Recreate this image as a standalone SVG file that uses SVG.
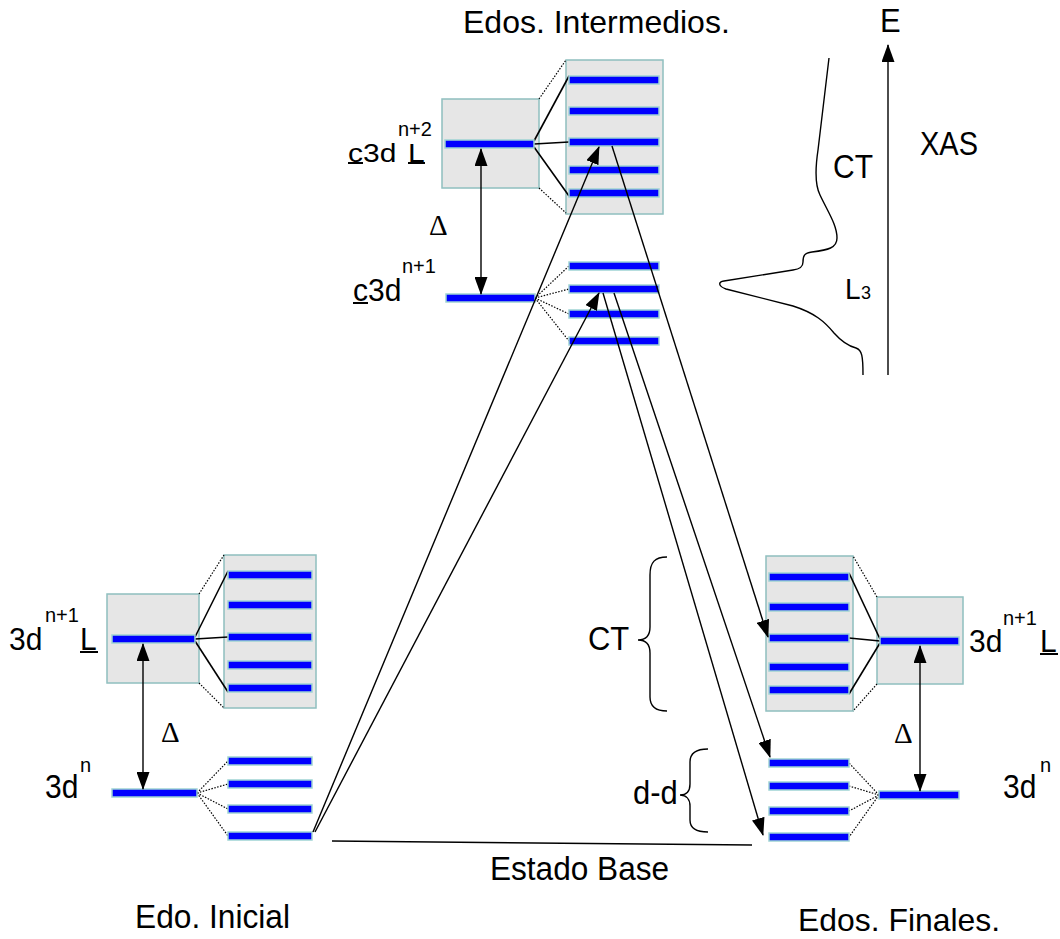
<svg xmlns="http://www.w3.org/2000/svg" width="1060" height="939" viewBox="0 0 1060 939">
<style>
.box{fill:#e6e6e6;stroke:#8fbfbf;stroke-width:1.5}
.lvl{fill:#0000ff;stroke:#9fd3d3;stroke-width:1.5}
.sol{stroke:#000;stroke-width:1.6;fill:none}
.dot{stroke:#000;stroke-width:1.2;stroke-dasharray:1.5 1.5;fill:none}
.conn{stroke:#000;stroke-width:1.4;fill:none}
.t{font-family:"Liberation Sans",Arial,sans-serif;fill:#000}
.d{font-family:"Liberation Serif","Times New Roman",serif;fill:#000}
</style>
<defs>
<marker id="ah" viewBox="0 0 18 13" refX="17" refY="6.5" markerWidth="18" markerHeight="13" markerUnits="userSpaceOnUse" orient="auto-start-reverse">
<path d="M0,0 L18,6.5 L0,13 z" fill="#000"/>
</marker>
</defs>

<g id="initial-3dn1L">
<rect class="box" x="107" y="594" width="92" height="89"/>
<rect class="box" x="224" y="555" width="92" height="153"/>
<line class="dot" x1="199" y1="594" x2="224" y2="555"/>
<line class="dot" x1="199" y1="683" x2="224" y2="708"/>
<line class="sol" x1="195" y1="637" x2="228" y2="571"/>
<line class="sol" x1="195" y1="639" x2="228" y2="637"/>
<line class="sol" x1="195" y1="641" x2="228" y2="692"/>
<rect class="lvl" x="112" y="635" width="83" height="8"/>
<rect class="lvl" x="228" y="571" width="84" height="8"/>
<rect class="lvl" x="228" y="601" width="84" height="8"/>
<rect class="lvl" x="228" y="633" width="84" height="8"/>
<rect class="lvl" x="228" y="661" width="84" height="8"/>
<rect class="lvl" x="228" y="684" width="84" height="8"/>
<text class="t" x="9" y="650" font-size="30" transform="matrix(1 0 0 1.05 0 -32.5)">3d</text>
<text class="t" x="45" y="622" font-size="20">n+1</text>
<text class="t" x="80" y="650" font-size="30" transform="matrix(1 0 0 1.05 0 -32.5)">L</text>
<rect x="80" y="651" width="18" height="2" fill="#000"/>
</g>

<g id="initial-3dn">
<line class="dot" x1="197" y1="793" x2="228" y2="761"/>
<line class="dot" x1="197" y1="793" x2="228" y2="784"/>
<line class="dot" x1="197" y1="793" x2="228" y2="809"/>
<line class="dot" x1="197" y1="793" x2="228" y2="836"/>
<rect class="lvl" x="112" y="789" width="85" height="8"/>
<rect class="lvl" x="228" y="757" width="84" height="8"/>
<rect class="lvl" x="228" y="780" width="84" height="8"/>
<rect class="lvl" x="228" y="805" width="84" height="8"/>
<rect class="lvl" x="228" y="832" width="84" height="8"/>
<text class="t" x="45" y="798" font-size="30" transform="matrix(1 0 0 1.08 0 -63.8)">3d</text>
<text class="t" x="80" y="772" font-size="20">n</text>
</g>

<g id="intermediate-c3dn2L">
<rect class="box" x="442" y="99" width="97" height="89"/>
<rect class="box" x="566" y="60" width="97" height="154"/>
<line class="dot" x1="539" y1="99" x2="566" y2="60"/>
<line class="dot" x1="539" y1="188" x2="566" y2="213"/>
<line class="sol" x1="534" y1="141" x2="569" y2="76"/>
<line class="sol" x1="534" y1="144" x2="569" y2="142"/>
<line class="sol" x1="534" y1="147" x2="569" y2="196"/>
<rect class="lvl" x="445" y="140" width="89" height="8"/>
<rect class="lvl" x="569" y="76" width="90" height="8"/>
<rect class="lvl" x="569" y="107" width="90" height="8"/>
<rect class="lvl" x="569" y="138" width="90" height="8"/>
<rect class="lvl" x="569" y="166" width="90" height="8"/>
<rect class="lvl" x="569" y="189" width="90" height="8"/>
<text class="t" x="348" y="162" font-size="30" transform="matrix(1 0 0 0.86 0 22.7)">c3d</text>
<rect x="348" y="162" width="15" height="2" fill="#000"/>
<text class="t" x="398" y="136" font-size="20">n+2</text>
<text class="t" x="408" y="162" font-size="30" transform="matrix(1 0 0 0.86 0 22.7)">L</text>
<rect x="408" y="162" width="17" height="2" fill="#000"/>
</g>

<g id="intermediate-c3dn1">
<line class="dot" x1="535" y1="298" x2="569" y2="266"/>
<line class="dot" x1="535" y1="298" x2="569" y2="289"/>
<line class="dot" x1="535" y1="298" x2="569" y2="314"/>
<line class="dot" x1="535" y1="298" x2="569" y2="341"/>
<rect class="lvl" x="446" y="294" width="89" height="8"/>
<rect class="lvl" x="569" y="262" width="90" height="8"/>
<rect class="lvl" x="569" y="285" width="90" height="8"/>
<rect class="lvl" x="569" y="310" width="90" height="8"/>
<rect class="lvl" x="569" y="337" width="90" height="8"/>
<text class="t" x="353" y="301" font-size="30" transform="matrix(1 0 0 1.05 0 -15)">c3d</text>
<rect x="353" y="302" width="15" height="2" fill="#000"/>
<text class="t" x="402" y="273" font-size="20">n+1</text>
</g>

<g id="final-3dn1L">
<rect class="box" x="766" y="556" width="87" height="155"/>
<rect class="box" x="877" y="597" width="86" height="87"/>
<line class="dot" x1="877" y1="597" x2="853" y2="556"/>
<line class="dot" x1="877" y1="684" x2="853" y2="711"/>
<line class="sol" x1="880" y1="639" x2="849" y2="573"/>
<line class="sol" x1="880" y1="641" x2="849" y2="638"/>
<line class="sol" x1="880" y1="643" x2="849" y2="694"/>
<rect class="lvl" x="769" y="573" width="80" height="8"/>
<rect class="lvl" x="769" y="603" width="80" height="8"/>
<rect class="lvl" x="769" y="634" width="80" height="8"/>
<rect class="lvl" x="769" y="663" width="80" height="8"/>
<rect class="lvl" x="769" y="686" width="80" height="8"/>
<rect class="lvl" x="880" y="637" width="79" height="8"/>
<text class="t" x="969" y="652" font-size="30" transform="matrix(1 0 0 1.05 0 -32.6)">3d</text>
<text class="t" x="1003" y="625" font-size="20">n+1</text>
<text class="t" x="1040" y="652" font-size="30" transform="matrix(1 0 0 1.05 0 -32.6)">L</text>
<rect x="1040" y="653" width="18" height="2" fill="#000"/>
</g>

<g id="final-3dn">
<line class="dot" x1="879" y1="795" x2="849" y2="763"/>
<line class="dot" x1="879" y1="795" x2="849" y2="786"/>
<line class="dot" x1="879" y1="795" x2="849" y2="811"/>
<line class="dot" x1="879" y1="795" x2="849" y2="837"/>
<rect class="lvl" x="879" y="791" width="80" height="8"/>
<rect class="lvl" x="769" y="759" width="80" height="8"/>
<rect class="lvl" x="769" y="782" width="80" height="8"/>
<rect class="lvl" x="769" y="807" width="80" height="8"/>
<rect class="lvl" x="769" y="833" width="80" height="8"/>
<text class="t" x="1003" y="798" font-size="30" transform="matrix(1 0 0 1.1 0 -79.8)">3d</text>
<text class="t" x="1040" y="772" font-size="20">n</text>
</g>

<g id="xas-spectrum">
<path class="conn" d="M829,58 L818,150 C815,170 815,185 820,195 C828,212 837,225 837,238 C837,248 828,250 812,252 C804,253 803,256 803,262 C803,267 800,269 793,270 L724,281 C718,282 718,286 726,289 L793,306 C815,313 825,322 834,333 C842,342 848,346 856,348 C862,350 863,356 863,375"/>
<text class="t" x="833" y="178" font-size="30" transform="matrix(1 0 0 1.08 0 -14.2)">CT</text>
<text class="t" x="845" y="299" font-size="28" transform="matrix(1 0 0 1.05 0 -15)">L</text>
<text class="t" x="861" y="299" font-size="18">3</text>
<text class="t" x="920" y="155" font-size="29" transform="matrix(1 0 0 1.15 0 -23.25)">XAS</text>
<text class="t" x="880" y="32" font-size="31" transform="matrix(1 0 0 1.1 0 -3.2)">E</text>
</g>

<g id="labels">
<text class="t" x="463" y="33" font-size="32">Edos. Intermedios.</text>
<text class="t" x="135" y="928" font-size="31.7" transform="matrix(1 0 0 1.05 0 -46.4)">Edo. Inicial</text>
<text class="t" x="490" y="880" font-size="31.6" transform="matrix(1 0 0 1.05 0 -44)">Estado Base</text>
<text class="t" x="798" y="931" font-size="31.9">Edos. Finales.</text>
<text class="t" x="588" y="650" font-size="31" transform="matrix(1 0 0 1.05 0 -32.5)">CT</text>
<text class="t" x="633" y="804" font-size="31" transform="matrix(1 0 0 1.05 0 -40.2)">d-d</text>
<text class="d" x="161" y="742" font-size="29">Δ</text>
<text class="d" x="429" y="235" font-size="29">Δ</text>
<text class="d" x="894" y="743" font-size="29">Δ</text>
</g>

<g id="connectors">
<line class="conn" x1="143" y1="644" x2="143" y2="789" marker-start="url(#ah)" marker-end="url(#ah)"/>
<line class="conn" x1="481" y1="149" x2="481" y2="294" marker-start="url(#ah)" marker-end="url(#ah)"/>
<line class="conn" x1="920" y1="646" x2="920" y2="791" marker-start="url(#ah)" marker-end="url(#ah)"/>
<line class="conn" x1="313" y1="832" x2="599" y2="147" marker-end="url(#ah)"/>
<line class="conn" x1="315" y1="832" x2="599" y2="293" marker-end="url(#ah)"/>
<line class="conn" x1="612" y1="146" x2="768" y2="637" marker-end="url(#ah)"/>
<line class="conn" x1="614" y1="293" x2="770" y2="757" marker-end="url(#ah)"/>
<line class="conn" x1="603" y1="293" x2="763" y2="835" marker-end="url(#ah)"/>
<line class="conn" x1="332" y1="841" x2="752" y2="845"/>
<line class="conn" x1="888" y1="375" x2="888" y2="45" marker-end="url(#ah)"/>
<path class="conn" d="M667,557 C655,557 650,562 650,575 L650,627 C650,636 645,640 638,640 C645,640 650,644 650,653 L650,697 C650,706 655,711 667,711"/>
<path class="conn" d="M708,749 C697,749 690,752 690,762 L690,784 C690,792 686,795 680,795 C686,795 690,799 690,806 L690,820 C690,829 697,832 708,832"/>
</g>
</svg>
